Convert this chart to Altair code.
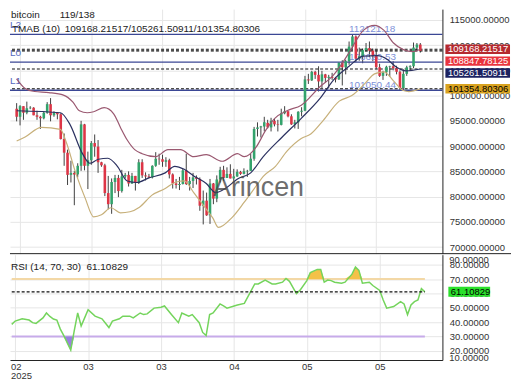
import altair as alt
import pandas as pd

FONT = "Liberation Sans"

# ---------------- data ----------------
# daily candles, thousands of USD
opens = [97.4, 95.8, 97.9, 96.6, 97.5, 97.6, 96.1, 95.8, 95.5, 96.6,
         98.3, 96.1, 96.6, 96.3, 91.4, 88.7, 84.3, 84.7, 84.4, 86.1,
         94.3, 86.1, 87.2, 90.6, 89.9, 86.8, 86.2, 80.7, 78.5, 82.9,
         83.7, 81.1, 84.0, 84.3, 82.6, 84.1, 82.7, 86.8, 84.2, 84.0,
         83.8, 86.1, 87.5, 87.4, 86.9, 87.2, 84.4, 82.6, 82.3, 82.5,
         85.2, 82.5, 83.1, 83.8, 83.5, 78.2, 79.2, 76.3, 82.6, 79.6,
         83.4, 85.3, 83.7, 84.5, 83.6, 84.0, 84.9, 84.5, 85.0, 85.1,
         87.5, 93.4, 93.7, 93.9, 94.6, 93.7, 95.0, 94.3, 94.2, 96.5,
         96.9, 95.9, 94.3, 94.7, 96.8, 97.0, 103.2, 103.0, 104.7, 104.1,
         102.8, 104.2, 103.5, 103.7, 103.5, 103.2, 106.5, 105.6, 106.8, 109.7,
         111.7, 107.3, 107.8, 109.0, 109.4, 108.9, 107.8, 105.6, 103.9, 104.6,
         105.7, 105.8, 105.4, 104.7, 101.5, 104.3, 105.6, 105.8, 109.5, 110.1]
highs = [98.5, 98.1, 97.9, 98.8, 97.9, 97.7, 97.0, 96.0, 96.9, 98.7,
         99.5, 96.9, 96.7, 96.5, 92.5, 89.3, 87.1, 85.1, 86.6, 95.0,
         94.4, 88.9, 91.0, 92.3, 91.2, 86.9, 86.5, 84.1, 83.6, 84.3,
         84.3, 85.3, 84.7, 85.0, 84.7, 84.1, 87.4, 87.4, 84.8, 84.5,
         86.2, 88.8, 88.5, 88.3, 87.8, 87.5, 84.6, 83.5, 83.9, 85.5,
         88.5, 83.9, 84.7, 84.2, 83.8, 81.2, 80.8, 83.5, 82.7, 84.2,
         85.9, 86.1, 85.8, 86.4, 85.5, 85.4, 85.1, 85.6, 85.3, 88.5,
         93.8, 94.7, 94.0, 95.8, 95.2, 95.6, 95.4, 95.2, 97.4, 97.9,
         96.9, 96.3, 95.2, 96.9, 97.7, 103.9, 104.3, 104.9, 104.9, 105.8,
         104.9, 104.3, 104.1, 104.5, 103.7, 106.6, 107.0, 107.1, 110.7, 112.12118,
         111.9, 109.5, 109.3, 110.4, 110.7, 109.3, 108.9, 106.3, 104.9, 105.9,
         105.9, 106.8, 105.9, 105.0, 105.2, 105.9, 106.0, 110.5, 110.4, 110.4]
lows = [94.9, 94.1, 95.2, 96.3, 97.3, 96.1, 95.2, 93.4, 95.3, 96.4,
        94.9, 95.8, 95.3, 91.3, 86.1, 82.3, 82.8, 78.3, 83.8, 85.1,
        85.2, 81.5, 86.3, 87.9, 84.7, 85.9, 80.1, 77.5, 76.6, 80.7,
        79.9, 80.8, 83.6, 82.0, 82.5, 81.2, 82.5, 83.7, 83.2, 83.7,
        83.6, 85.9, 86.3, 85.9, 85.9, 83.6, 81.6, 81.6, 81.3, 82.4,
        82.3, 81.2, 81.7, 82.4, 77.2, 74.5, 76.2, 74.6, 78.5, 78.9,
        82.8, 83.1, 83.7, 83.6, 83.1, 83.9, 84.3, 84.4, 83.9, 85.1,
        87.1, 91.9, 91.7, 92.9, 93.5, 92.9, 93.9, 92.9, 94.1, 96.3,
        95.7, 94.2, 93.5, 93.4, 95.9, 96.9, 102.3, 102.9, 103.3, 100.8,
        101.5, 102.6, 101.4, 103.1, 102.6, 103.1, 102.0, 104.2, 106.1, 109.3,
        106.6, 106.9, 106.4, 108.7, 107.6, 106.8, 105.3, 103.7, 103.1, 103.9,
        103.7, 105.0, 104.2, 101.05044, 101.1, 103.9, 104.9, 105.4, 108.9, 108.5]
closes = [95.8, 97.9, 96.6, 97.5, 97.6, 96.1, 95.8, 95.5, 96.6, 98.3,
          96.1, 96.6, 96.3, 91.4, 88.7, 84.3, 84.7, 84.4, 86.1, 94.3,
          86.1, 87.2, 90.6, 89.9, 86.8, 86.2, 80.7, 78.5, 82.9, 83.7,
          81.1, 84.0, 84.3, 82.6, 84.1, 82.7, 86.8, 84.2, 84.0, 83.8,
          86.1, 87.5, 87.4, 86.9, 87.2, 84.4, 82.6, 82.3, 82.5, 85.2,
          82.5, 83.1, 83.8, 83.5, 78.2, 79.2, 76.3, 82.6, 79.6, 83.4,
          85.3, 83.7, 84.5, 83.6, 84.0, 84.9, 84.5, 85.0, 85.1, 87.5,
          93.4, 93.7, 93.9, 94.7, 93.7, 95.0, 94.3, 94.2, 96.5, 96.9,
          95.9, 94.3, 94.7, 96.8, 97.0, 103.2, 103.0, 104.7, 104.1, 102.8,
          104.2, 103.5, 103.7, 103.5, 103.2, 106.5, 105.6, 106.8, 109.7, 111.7,
          107.3, 107.8, 109.0, 109.4, 108.9, 107.8, 105.6, 103.9, 104.6, 105.7,
          105.8, 105.4, 104.7, 101.5, 104.3, 105.6, 105.8, 109.5, 110.1, 108.84778]

# TMAB (10) envelope, vertices: candle index / thousands USD
upper_i = [0, 2.5, 5.3, 9.5, 13.8, 16.6, 18.5, 20.8, 22.7, 25.8, 28.6, 30.6, 32.6,
           34.8, 37.0, 41.0, 44.6, 48.3, 52.2, 55.9, 60.6, 65.1, 67.1, 70.7, 73.3,
           76.1, 79.7, 83.9, 89.5, 93.2, 98.0, 100.2, 102.2, 105.5, 108.3, 111.1,
           114.0, 116.8, 119]
upper_v = [103.3, 101.4, 100.8, 100.6, 100.1, 98.7, 97.0, 96.6, 96.8, 97.6, 96.4,
           93.7, 91.2, 89.3, 88.5, 87.9, 89.3, 89.3, 87.9, 88.3, 87.0, 88.5, 87.9,
           89.9, 93.0, 95.5, 97.0, 98.1, 101.8, 103.9, 108.5, 111.0, 112.9, 113.9,
           112.9, 110.4, 109.1, 108.7, 109.16821517]
mid_i = [0, 12.9, 15.7, 19.4, 21.6, 24.1, 26.9, 29.7, 32.6, 35.4, 39.0, 43.8, 46.6,
         49.4, 52.2, 55.9, 58.7, 61.5, 65.1, 69.0, 72.7, 78.3, 83.9, 89.5, 93.7, 98.0,
         102.2, 106.4, 109.2, 112.0, 114.8, 119]
mid_v = [97.0, 96.6, 94.3, 88.5, 86.6, 87.4, 87.6, 86.0, 83.1, 82.8, 83.7, 84.7,
         86.0, 85.4, 84.1, 82.6, 80.8, 81.6, 83.5, 84.7, 87.9, 91.8, 95.5, 99.5,
         103.3, 105.8, 107.8, 107.9, 107.2, 105.6, 104.9, 105.26150911]
lower_i = [0, 2.5, 7.3, 12.9, 14.6, 17.4, 20.2, 22.7, 25.0, 27.8, 30.6, 33.4, 36.2,
           39.9, 43.8, 46.6, 49.4, 52.2, 55.0, 57.8, 59.5, 63.4, 67.1, 70.7, 72.7,
           76.3, 79.7, 83.9, 86.7, 90.4, 95.1, 98.8, 102.7, 105.5, 108.3, 111.1,
           114.0, 115.6, 119]
lower_v = [91.0, 91.8, 93.7, 93.3, 90.8, 84.7, 79.7, 76.0, 76.4, 77.8, 76.8, 77.0,
           77.9, 80.3, 81.6, 82.8, 83.1, 80.8, 78.3, 75.8, 73.9, 75.8, 78.9, 82.2,
           84.0, 86.0, 89.0, 91.5, 92.4, 95.1, 98.9, 100.0, 102.4, 104.3, 104.7,
           102.9, 101.0, 100.8, 101.35480306]

# RSI (14) vertices
rsi_i = [0, 1, 3, 5, 6, 7, 9, 10, 11, 12, 13, 14, 15, 17, 18, 19, 20, 21, 22, 24,
         26, 28, 29, 31, 32, 34, 35, 37, 38, 39, 41, 43, 44, 46, 48, 49, 51, 52, 54, 55,
         56, 57, 58, 60, 61, 62, 65, 67, 68, 70, 71, 73, 75, 76, 78, 79, 80, 82, 83, 85,
         86, 88, 89, 90, 91, 92, 93, 95, 96, 98, 99, 100, 101, 103, 104, 106, 107, 108,
         110, 112, 113, 114, 115, 116, 117, 118, 119]
rsi_v = [38.5, 40.8, 42.4, 41.5, 39.7, 39.2, 43.0, 46.4, 44.0, 42.2,
         41.5, 35.2, 30.7, 20.6, 34.0, 46.4, 37.4, 43.0, 48.7, 44.2,
         42.4, 36.3, 40.8, 42.4, 44.2, 44.2, 43.0, 46.4, 45.3, 45.8,
         49.8, 50.4, 51.3, 45.3, 39.7, 46.4, 44.2, 45.3, 39.7, 32.9,
         30.7, 45.3, 46.4, 52.7, 51.3, 49.8, 52.0, 53.1, 57.6, 66.6,
         66.6, 69.3, 66.6, 66.6, 67.8, 70.4, 68.4, 59.9, 62.1, 68.9,
         74.5, 76.7, 76.7, 67.8, 69.3, 68.9, 67.8, 67.1, 67.8, 73.4,
         78.3, 76.0, 67.1, 67.8, 65.5, 62.1, 55.4, 49.8, 50.9, 54.3,
         52.7, 45.3, 52.0, 54.3, 55.5, 63.3, 61.10829]

level_names = ["L2", "L0", "L1"]
level_values = [112121.18, 106620.53, 101050.44]
level_texts = ["112121.18", "106620.53", "101050.44"]
dashed_values = [109168.21517, 108847.78125, 105261.50911, 101354.80306]

badge_values = [109168.21517, 108847.78125, 105261.50911, 101354.80306]
badge_texts = ["109168.21517", "108847.78125", "105261.50911", "101354.80306"]

rsi_upper, rsi_lower = 70, 30
rsi_last = 61.10829

price_ticks = list(range(70000, 115001, 5000))
rsi_ticks = [20, 30, 40, 50, 60, 70, 80]
rsi_edge_labels = ["90.00000", "10.00000"]
x_tick_idx = [1, 22, 43, 64, 85, 106]
x_tick_month = ["02", "03", "03", "04", "05", "05"]
year_label = "2025"

header_name, header_count = "bitcoin", "119/138"
tmab_title = "TMAB (10)"
tmab_text = "109168.21517/105261.50911/101354.80306"
rsi_title = "RSI (14, 70, 30)"
rsi_text = "61.10829"
watermark = "Arincen"

# ---------------- styling / geometry ----------------
W, HM, HR = 435, 246, 106
GREEN, RED = "#33a36c", "#dd3546"
GRID = "#e6e6e6"
xs = alt.Scale(domain=[-0.5, 124.05], nice=False, zero=False)
ys = alt.Scale(domain=[68713, 117113], nice=False, zero=False)
rs = alt.Scale(domain=[13.73, 86.95], nice=False, zero=False)

expr = "''"
for v, m in reversed(list(zip(x_tick_idx, x_tick_month))):
    lab = f"['{m}','{year_label}']" if v == x_tick_idx[0] else f"'{m}'"
    expr = f"datum.value == {v} ? {lab} : {expr}"

# shared axis definitions (identical in every layer so they merge)
AX_MX = alt.Axis(values=x_tick_idx, labels=False, ticks=False, domain=False, grid=True,
                 gridColor=GRID, title=None)
AX_MY = alt.Axis(orient="right", values=price_ticks, format=".5f", grid=True,
                 gridColor=GRID, ticks=False, domain=True, domainColor="#222",
                 labelPadding=7, labelFontSize=9.5, labelColor="#333",
                 labelOverlap=False, title=None)
AX_RX = alt.Axis(values=x_tick_idx, labelExpr=expr, grid=True, gridColor=GRID, ticks=False,
                 domain=True, domainColor="#222", labelPadding=2, labelFontSize=9.5,
                 labelLineHeight=9, labelColor="#333", labelFlush=10,
                 labelFlushOffset=4.7, labelOverlap=False, title=None)
AX_RY = alt.Axis(orient="right", values=rsi_ticks, format=".5f", grid=True,
                 gridColor=GRID, ticks=False, domain=True, domainColor="#222",
                 labelPadding=7, labelFontSize=9.5, labelColor="#333",
                 labelOverlap=False, title=None)

candles = pd.DataFrame({
    "i": list(range(len(opens))),
    "open": [v * 1000 for v in opens],
    "high": [v * 1000 for v in highs],
    "low": [v * 1000 for v in lows],
    "close": [v * 1000 for v in closes],
})


def MX(f):
    return alt.X(f, scale=xs, axis=AX_MX)


def MY(f):
    return alt.Y(f, scale=ys, axis=AX_MY)


def RX(f):
    return alt.X(f, scale=xs, axis=AX_RX)


def RY(f):
    return alt.Y(f, scale=rs, axis=AX_RY)


def label(text, x, y, size=10, color="#222", align="left", **kw):
    return alt.Chart(pd.DataFrame({"t": [text]})).mark_text(
        align=align, baseline="middle", font=FONT, fontSize=size, color=color, **kw
    ).encode(x=alt.value(x), y=alt.value(y), text="t:N")


def badge(value, text, fill, tcolor, yenc, width, height, x0, shift=0):
    df = pd.DataFrame({"v": [value], "t": [text]})
    k = height / width
    shape = f"M-1,-{k:.4f}L1,-{k:.4f}L1,{k:.4f}L-1,{k:.4f}Z"
    box = alt.Chart(df).mark_point(
        shape=shape, size=width ** 2, filled=True, color=fill, opacity=1,
        strokeWidth=0, yOffset=shift
    ).encode(x=alt.value(x0 + width / 2), y=yenc("v:Q"))
    txt = alt.Chart(df).mark_text(
        align="left", baseline="middle", font=FONT, fontSize=9.5, color=tcolor,
        yOffset=shift
    ).encode(x=alt.value(x0 + 2.5), y=yenc("v:Q"), text="t:N")
    return [box, txt]


# ---------------- main price panel ----------------
levels = pd.DataFrame({"v": level_values, "name": level_names, "t": level_texts})
dashed = pd.DataFrame({"v": dashed_values})

wick = alt.Chart(candles).mark_rule(color="#404040", strokeWidth=1).encode(
    x=MX("i:Q"), y=MY("low:Q"), y2="high:Q")
body = alt.Chart(candles).mark_bar(width=2.6).encode(
    x=MX("i:Q"), y=MY("open:Q"), y2="close:Q",
    color=alt.condition("datum.close >= datum.open", alt.value(GREEN), alt.value(RED)))

solid_rules = alt.Chart(levels).mark_rule(color="#3b4795", strokeWidth=1.3).encode(y=MY("v:Q"))
dash_rules = alt.Chart(dashed).mark_rule(color="#111", strokeDash=[3, 2], strokeWidth=1.2).encode(
    y=MY("v:Q"))
name_lbl = alt.Chart(levels).mark_text(
    align="left", baseline="middle", dy=-9.5, font=FONT, fontSize=10, color="#5668c0"
).encode(x=alt.value(0), y=MY("v:Q"), text="name:N")
val_lbl = alt.Chart(levels).mark_text(
    align="left", baseline="middle", dy=-5.5, font=FONT, fontSize=10, color="#7d90d8"
).encode(x=alt.value(341), y=MY("v:Q"), text="t:N")


def band(ii, vv, color):
    df = pd.DataFrame({"i": ii, "v": [v * 1000 for v in vv]})
    return alt.Chart(df).mark_line(
        color=color, strokeWidth=1.2, interpolate="monotone"
    ).encode(x=MX("i:Q"), y=MY("v:Q"))


upper_line = band(upper_i, upper_v, "#9a5870")
mid_line = band(mid_i, mid_v, "#2b3160")
lower_line = band(lower_i, lower_v, "#c7b07a")

separator = alt.Chart(pd.DataFrame({"a": [0]})).mark_rule(color="#222", strokeWidth=1).encode(
    x=alt.value(0), x2=alt.value(504), y=alt.value(HM))

main_layers = [wick, solid_rules, dash_rules, name_lbl, val_lbl, body,
               upper_line, mid_line, lower_line,
               label(watermark, 250, 179.6, size=27, color="#4a4a4a", align="center", opacity=0.8),
               label(header_name, 1, 5.5), label(header_count, 50, 5.5),
               label(tmab_title, 2, 20.5), label(tmab_text, 55, 20.5)]
badge_fill = ["#b52a2f", "#e9353e", "#1c2260", "#d9a320"]
badge_tcol = ["white", "white", "white", "black"]
badge_shift = [0, 10.3, 4.1, 0]
for v, t, f, c, s in zip(badge_values, badge_texts, badge_fill, badge_tcol, badge_shift):
    main_layers += badge(v, t, f, c, MY, 65, 9.5, 438, s)
main_layers.append(separator)

main = alt.layer(*main_layers).properties(width=W, height=HM)

# ---------------- RSI panel ----------------
rsi_df = pd.DataFrame({"i": rsi_i, "rsi": rsi_v})


def hline(level, color, width, dash=None):
    df = pd.DataFrame({"y": [level], "x0": [rsi_i[0]], "x1": [rsi_i[-1]]})
    kw = {"strokeDash": dash} if dash else {}
    return alt.Chart(df).mark_rule(color=color, strokeWidth=width, **kw).encode(
        x=RX("x0:Q"), x2="x1:Q", y=RY("y:Q"))


rsi_line = alt.Chart(rsi_df).mark_line(color="#74d45c", strokeWidth=1.5).encode(
    x=RX("i:Q"), y=RY("rsi:Q"))
fill_hi = alt.Chart(rsi_df).transform_calculate(
    top=f"max(datum.rsi, {rsi_upper})", base=f"{rsi_upper}"
).mark_area(color="#f4c148", opacity=1).encode(x=RX("i:Q"), y=RY("top:Q"), y2="base:Q")
fill_lo = alt.Chart(rsi_df).transform_calculate(
    bot=f"min(datum.rsi, {rsi_lower})", base=f"{rsi_lower}"
).mark_area(color="#9a82df", opacity=1).encode(x=RX("i:Q"), y=RY("bot:Q"), y2="base:Q")

rsi_layers = [hline(rsi_upper, "#f3d8a6", 2), hline(rsi_lower, "#c7abea", 2),
              fill_hi, fill_lo, rsi_line, hline(rsi_last, "#111", 1.1, [3, 2]),
              label(rsi_title, 1, 12.7), label(rsi_text, 77, 12.7),
              label(rsi_edge_labels[0], W + 7, 5, size=9.5, color="#333"),
              label(rsi_edge_labels[1], W + 7, 103.5, size=9.5, color="#333")]
rsi_layers += badge(rsi_last, rsi_text, "#2be02b", "black", RY, 42, 10, 441)

rsi = alt.layer(*rsi_layers).properties(width=W, height=HR)

chart = alt.vconcat(main, rsi, spacing=0, padding=0).configure_view(
    stroke=None).configure_axis(labelFont=FONT)

chart.save("out.html", embed_options={"renderer": "svg", "actions": False})
